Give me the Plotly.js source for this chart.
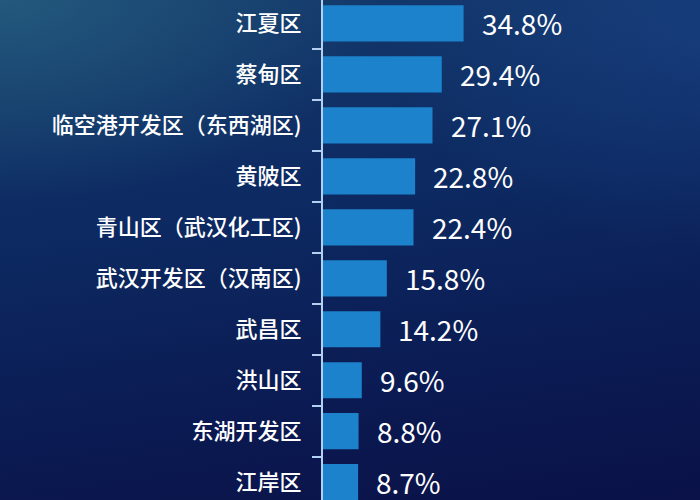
<!DOCTYPE html>
<html>
<head>
<meta charset="utf-8">
<script src="https://cdn.plot.ly/plotly-3.0.1.min.js"></script>
<style>
  html, body { margin: 0; padding: 0; }
  body {
    width: 700px; height: 500px; overflow: hidden;
    background:
      radial-gradient(ellipse 55% 40% at 0% 0%, rgba(45,110,135,0.6), rgba(45,110,135,0) 100%),
      radial-gradient(ellipse 45% 45% at 100% 5%, rgba(30,75,150,0.4), rgba(30,75,150,0) 100%),
      linear-gradient(172deg, #143a6c 0%, #0d2a62 40%, #0b1a52 75%, #0a1248 100%);
  }
  #chart { width: 700px; height: 500px; }
</style>
</head>
<body>
<div id="chart"></div>
<script>
/* ----- data ----- */
var districts = ['江夏区', '蔡甸区', '临空港开发区（东西湖区)', '黄陂区', '青山区（武汉化工区)',
                 '武汉开发区（汉南区)', '武昌区', '洪山区', '东湖开发区', '江岸区'];
var shares = [34.8, 29.4, 27.1, 22.8, 22.4, 15.8, 14.2, 9.6, 8.8, 8.7];
var shareLabels = ['34.8%', '29.4%', '27.1%', '22.8%', '22.4%', '15.8%', '14.2%', '9.6%', '8.8%', '8.7%'];

var bars = {
    type: 'bar',
    orientation: 'h',
    x: shares,
    y: districts,
    marker: {color: '#1b82cb'},
    hoverinfo: 'none'
};

// value labels sit just right of each bar
var valueNotes = shares.map(function(v, i) {
    return {
        x: v,
        y: districts[i],
        text: shareLabels[i],
        showarrow: false,
        xanchor: 'left',
        xshift: 16,
        font: {family: '"Noto Sans CJK SC", "Noto Sans", sans-serif', size: 28, color: '#ffffff'}
    };
});

var layout = {
    width: 700,
    height: 500,
    margin: {l: 323, r: 0, t: 0, b: 0},
    paper_bgcolor: 'rgba(0,0,0,0)',
    plot_bgcolor: 'rgba(0,0,0,0)',
    showlegend: false,
    bargap: 0.29,
    font: {family: '"Noto Sans CJK SC", sans-serif', color: '#ffffff'},
    xaxis: {
        range: [0, 93.3],
        visible: false,
        fixedrange: true
    },
    yaxis: {
        type: 'category',
        categoryorder: 'array',
        categoryarray: districts,
        range: [9.35, -0.46],
        showline: true,
        linecolor: '#b4d0f0',
        linewidth: 2,
        ticks: 'outside',
        tickson: 'boundaries',
        ticklen: 9,
        tickwidth: 2,
        tickcolor: '#b4d0f0',
        ticklabelstandoff: 15,
        showgrid: false,
        zeroline: false,
        tickfont: {family: '"Noto Sans CJK SC", sans-serif', size: 22, weight: 500, color: '#ffffff'}
    },
    annotations: valueNotes
};

Plotly.newPlot('chart', [bars], layout, {staticPlot: true});
</script>
</body>
</html>
